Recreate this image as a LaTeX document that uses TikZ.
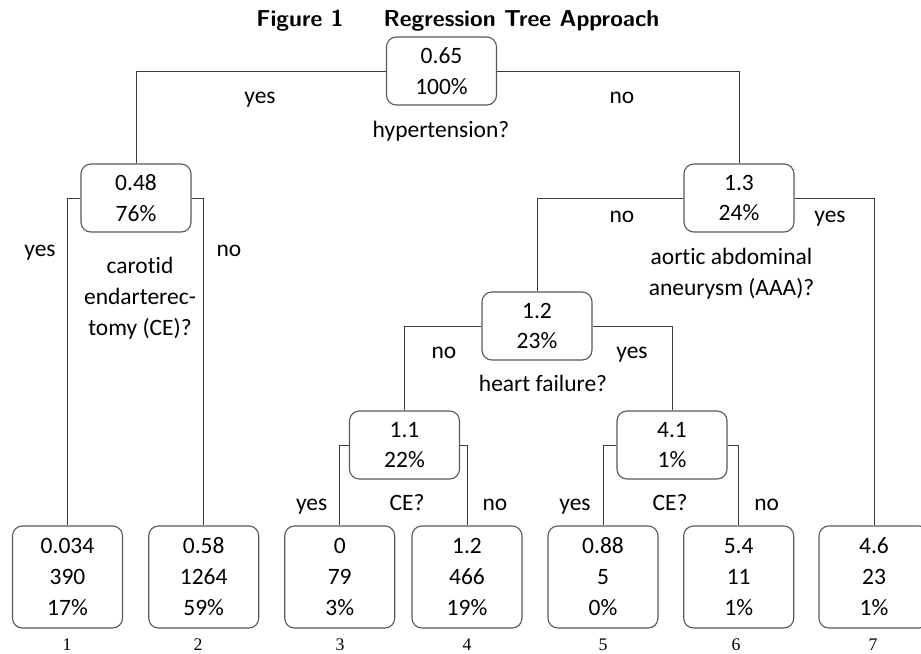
\documentclass[tikz,border=0pt]{standalone}
\usepackage{fontspec}
\setmainfont[Ligatures=NoCommon]{Carlito}
\newfontfamily\leaffont{Liberation Serif}
\usetikzlibrary{positioning}
\definecolor{ink}{HTML}{000000}
\definecolor{wire}{HTML}{3C3C3C}
\definecolor{frame}{HTML}{595959}

\begin{document}
\begin{tikzpicture}[x=0.025cm, y=-0.025cm, font=\fontsize{16.7}{22}\selectfont,
  split/.style={draw=frame, line width=0.8pt, rounded corners=7pt, fill=white,
            align=center, inner sep=0pt, minimum width=2.75cm,
            minimum height=1.7cm, text=ink},
  leaf/.style={split, minimum height=2.55cm},
  branch/.style={draw=wire, line width=0.7pt},
  ans/.style={anchor=base, inner sep=0pt, text=ink},
  ask/.style={align=center, inner sep=0pt, text=ink},
  tag/.style={anchor=base, inner sep=0pt, font=\leaffont\fontsize{12.6}{14}\selectfont},
  head/.style={anchor=base, inner sep=0pt, font=\sffamily\bfseries\fontsize{16.4}{20}\selectfont},
]
\useasboundingbox (0,0) rectangle (921,653);
\node[head] (fig) at (300,26) {Figure 1};
\node[head] (title) at (521.5,26) {Regression Tree Approach};

\node[split] (root) at (441.5,71) {0.65\\100\%};
\node[split] (n48) at (136,198) {0.48\\76\%};
\node[split] (n13) at (739,198) {1.3\\24\%};
\node[split] (n12) at (537,326) {1.2\\23\%};
\node[split] (n11) at (404.5,445) {1.1\\22\%};
\node[split] (n41) at (672,445) {4.1\\1\%};

\node[leaf] (l1) at (67.5,577) {0.034\\390\\17\%};
\node[leaf] (l2) at (203.7,577) {0.58\\1264\\59\%};
\node[leaf] (l3) at (339.7,577) {0\\79\\3\%};
\node[leaf] (l4) at (467,577) {1.2\\466\\19\%};
\node[leaf] (l5) at (603,577) {0.88\\5\\0\%};
\node[leaf] (l6) at (738.7,577) {5.4\\11\\1\%};
\node[leaf] (l7) at (874,577) {4.6\\23\\1\%};

\draw[branch] (root.west) -| (n48.north);
\draw[branch] (root.east) -| (n13.north);
\draw[branch] (n48.west) -| (l1.north);
\draw[branch] (n48.east) -| (l2.north);
\draw[branch] (n13.west) -| (n12.north);
\draw[branch] (n13.east) -| (l7.north);
\draw[branch] (n12.west) -| (n11.north);
\draw[branch] (n12.east) -| (n41.north);
\draw[branch] (n11.west) -| (l3.north);
\draw[branch] (n11.east) -| (l4.north);
\draw[branch] (n41.west) -| (l5.north);
\draw[branch] (n41.east) -| (l6.north);

\node[ans] (rootyes) at (260,103) {yes};
\node[ans] (rootno) at (622,103) {no};
\node[ans] (rootq) at (441,137) {hypertension?};

\node[ans] (n48yes) at (40,256) {yes};
\node[ans] (n48no) at (229,256) {no};
\node[ask] (n48q) at (140,298) {carotid\\endarterec-\\tomy (CE)?};

\node[ans] (n13no) at (622,222) {no};
\node[ans] (n13yes) at (830,222) {yes};
\node[ask] (n13q) at (731.5,274) {aortic abdominal\\aneurysm (AAA)?};

\node[ans] (n12no) at (444,358) {no};
\node[ans] (n12yes) at (632,358) {yes};
\node[ans] (n12q) at (543,391) {heart failure?};

\node[ans] (n11yes) at (311.7,510) {yes};
\node[ans] (n11q) at (407,510) {CE?};
\node[ans] (n11no) at (495,510) {no};
\node[ans] (n41yes) at (575,510) {yes};
\node[ans] (n41q) at (670,510) {CE?};
\node[ans] (n41no) at (766.7,510) {no};

\node[tag] (t1) at (67,650) {1};
\node[tag] (t2) at (198,650) {2};
\node[tag] (t3) at (340,650) {3};
\node[tag] (t4) at (467,650) {4};
\node[tag] (t5) at (603,650) {5};
\node[tag] (t6) at (736,650) {6};
\node[tag] (t7) at (873,650) {7};
\end{tikzpicture}
\end{document}
